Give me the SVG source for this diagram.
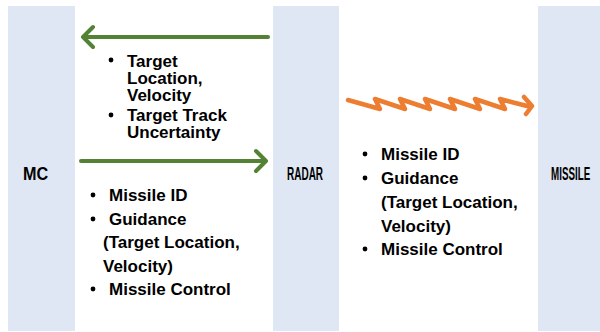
<svg xmlns="http://www.w3.org/2000/svg" width="600" height="332" viewBox="0 0 600 332">
<style>
.col{fill:#DEE7F3}
.lbl{font-family:"Liberation Sans",Arial,sans-serif;font-weight:bold;font-size:18px;fill:#000}
.txt{font-family:"Liberation Sans",Arial,sans-serif;font-weight:bold;font-size:17px;fill:#000}
.g{fill:none;stroke:#548235;stroke-width:4;stroke-linecap:round;stroke-linejoin:round}
.o{fill:none;stroke:#ED7D31;stroke-width:4.5;stroke-linecap:round;stroke-linejoin:round}
.b{fill:#000}
</style>
<rect width="600" height="332" fill="#fff"/>
<g id="mc">
<rect class="col" x="8" y="6" width="67" height="325"/>
<text class="lbl" transform="translate(23,179.5) scale(0.9,1)" x="0" y="0">MC</text>
</g>
<g id="radar">
<rect class="col" x="273" y="6" width="66" height="325"/>
<text class="lbl" transform="translate(287,179.5) scale(0.555,1)" x="0" y="0">RADAR</text>
</g>
<g id="missile">
<rect class="col" x="538" y="6" width="62" height="325"/>
<text class="lbl" transform="translate(551,179.5) scale(0.545,1)" x="0" y="0">MISSILE</text>
</g>
<g id="connectors">
<path class="g" d="M268 37 H83 M93 27 L83 37 L93 47"/>
<path class="g" d="M81 161 H265 M256 151 L266 161 L256 171"/>
<path class="o" d="M348 100 L380 109 L375 99 L405 109 L400 99 L430 109 L425 99 L455 109 L450 99 L480 109 L475 99 L505 109 L500 99 L531 107 M524 97 L532 106 L526 114"/>
</g>
<g id="label-radar-to-mc">
<circle class="b" cx="111" cy="60" r="2.4"/>
<circle class="b" cx="111" cy="115" r="2.4"/>
<text class="txt" x="127" y="67">Target</text>
<text class="txt" x="127" y="84">Location,</text>
<text class="txt" x="127" y="101">Velocity</text>
<text class="txt" x="127" y="121">Target Track</text>
<text class="txt" x="127" y="138">Uncertainty</text>
</g>
<g id="label-mc-to-radar">
<circle class="b" cx="93" cy="195" r="2.4"/>
<circle class="b" cx="93" cy="219" r="2.4"/>
<circle class="b" cx="93" cy="289" r="2.4"/>
<text class="txt" x="109" y="201">Missile ID</text>
<text class="txt" x="109" y="225">Guidance</text>
<text class="txt" x="103" y="248">(Target Location,</text>
<text class="txt" x="103" y="272">Velocity)</text>
<text class="txt" x="109" y="295">Missile Control</text>
</g>
<g id="label-radar-to-missile">
<circle class="b" cx="365" cy="154" r="2.4"/>
<circle class="b" cx="365" cy="178" r="2.4"/>
<circle class="b" cx="365" cy="249" r="2.4"/>
<text class="txt" x="381" y="160">Missile ID</text>
<text class="txt" x="381" y="184">Guidance</text>
<text class="txt" x="381" y="208">(Target Location,</text>
<text class="txt" x="381" y="232">Velocity)</text>
<text class="txt" x="381" y="255">Missile Control</text>
</g>
</svg>
